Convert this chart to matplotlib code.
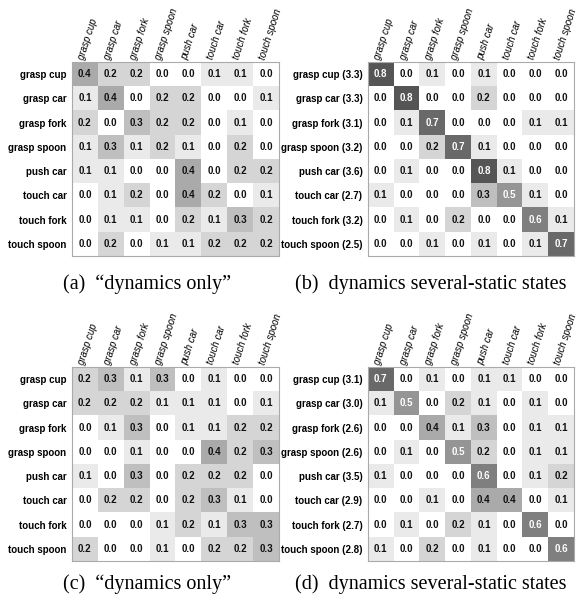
import numpy as np
import matplotlib
matplotlib.use("Agg")
import matplotlib.pyplot as plt
from matplotlib.colors import LinearSegmentedColormap

LABELS = ["grasp cup", "grasp car", "grasp fork", "grasp spoon",
          "push car", "touch car", "touch fork", "touch spoon"]

dyn_a = [[0.4, 0.2, 0.2, 0.0, 0.0, 0.1, 0.1, 0.0],
         [0.1, 0.4, 0.0, 0.2, 0.2, 0.0, 0.0, 0.1],
         [0.2, 0.0, 0.3, 0.2, 0.2, 0.0, 0.1, 0.0],
         [0.1, 0.3, 0.1, 0.2, 0.1, 0.0, 0.2, 0.0],
         [0.1, 0.1, 0.0, 0.0, 0.4, 0.0, 0.2, 0.2],
         [0.0, 0.1, 0.2, 0.0, 0.4, 0.2, 0.0, 0.1],
         [0.0, 0.1, 0.1, 0.0, 0.2, 0.1, 0.3, 0.2],
         [0.0, 0.2, 0.0, 0.1, 0.1, 0.2, 0.2, 0.2]]

static_b = [[0.8, 0.0, 0.1, 0.0, 0.1, 0.0, 0.0, 0.0],
            [0.0, 0.8, 0.0, 0.0, 0.2, 0.0, 0.0, 0.0],
            [0.0, 0.1, 0.7, 0.0, 0.0, 0.0, 0.1, 0.1],
            [0.0, 0.0, 0.2, 0.7, 0.1, 0.0, 0.0, 0.0],
            [0.0, 0.1, 0.0, 0.0, 0.8, 0.1, 0.0, 0.0],
            [0.1, 0.0, 0.0, 0.0, 0.3, 0.5, 0.1, 0.0],
            [0.0, 0.1, 0.0, 0.2, 0.0, 0.0, 0.6, 0.1],
            [0.0, 0.0, 0.1, 0.0, 0.1, 0.0, 0.1, 0.7]]
states_b = [3.3, 3.3, 3.1, 3.2, 3.6, 2.7, 3.2, 2.5]

dyn_c = [[0.2, 0.3, 0.1, 0.3, 0.0, 0.1, 0.0, 0.0],
         [0.2, 0.2, 0.2, 0.1, 0.1, 0.1, 0.0, 0.1],
         [0.0, 0.1, 0.3, 0.0, 0.1, 0.1, 0.2, 0.2],
         [0.0, 0.0, 0.1, 0.0, 0.0, 0.4, 0.2, 0.3],
         [0.1, 0.0, 0.3, 0.0, 0.2, 0.2, 0.2, 0.0],
         [0.0, 0.2, 0.2, 0.0, 0.2, 0.3, 0.1, 0.0],
         [0.0, 0.0, 0.0, 0.1, 0.2, 0.1, 0.3, 0.3],
         [0.2, 0.0, 0.0, 0.1, 0.0, 0.2, 0.2, 0.3]]

static_d = [[0.7, 0.0, 0.1, 0.0, 0.1, 0.1, 0.0, 0.0],
            [0.1, 0.5, 0.0, 0.2, 0.1, 0.0, 0.1, 0.0],
            [0.0, 0.0, 0.4, 0.1, 0.3, 0.0, 0.1, 0.1],
            [0.0, 0.1, 0.0, 0.5, 0.2, 0.0, 0.1, 0.1],
            [0.1, 0.0, 0.0, 0.0, 0.6, 0.0, 0.1, 0.2],
            [0.0, 0.0, 0.1, 0.0, 0.4, 0.4, 0.0, 0.1],
            [0.0, 0.1, 0.0, 0.2, 0.1, 0.0, 0.6, 0.0],
            [0.1, 0.0, 0.2, 0.0, 0.1, 0.0, 0.0, 0.6]]
states_d = [3.1, 3.0, 2.6, 2.6, 3.5, 2.9, 2.7, 2.8]

CAPTIONS = ["(a)  \u201cdynamics only\u201d", "(b)  dynamics several-static states",
            "(c)  \u201cdynamics only\u201d", "(d)  dynamics several-static states"]

W, H = 584, 602
cmap = LinearSegmentedColormap.from_list("g", ["#ffffff", "#000000"])


def draw(fig, box, mat, rows):
    x0, y0, x1, y1 = box
    ax = fig.add_axes([x0 / W, 1 - y1 / H, (x1 - x0) / W, (y1 - y0) / H])
    m = np.array(mat)
    ax.imshow(m, cmap=cmap, vmin=0, vmax=1.2, aspect="auto", interpolation="nearest")
    for i in range(m.shape[0]):
        for j in range(m.shape[1]):
            v = m[i, j]
            ax.text(j, i, f"{v:.1f}", ha="center", va="center", fontsize=7,
                    fontweight="bold", family="Liberation Sans",
                    color="white" if v >= 0.5 else "#111111")
    ax.set_xticks(range(len(LABELS)))
    ax.set_yticks(range(len(rows)))
    ax.set_xticklabels([])
    ax.set_yticklabels(rows, fontsize=7, fontweight="bold", family="Liberation Sans")
    ax.tick_params(length=0, pad=4)
    for j, lab in enumerate(LABELS):
        ax.text(j - 0.15, -0.62, lab, rotation=72, rotation_mode="anchor",
                ha="left", va="center", fontsize=7, style="italic",
                family="Liberation Sans")
    for s in ax.spines.values():
        s.set_color("#aaaaaa")
        s.set_linewidth(0.8)
    return ax


fig = plt.figure(figsize=(W / 100, H / 100), dpi=100)

rows_b = [f"{l} ({s:.1f})" for l, s in zip(LABELS, states_b)]
rows_d = [f"{l} ({s:.1f})" for l, s in zip(LABELS, states_d)]

draw(fig, (72, 62, 279, 256), dyn_a, LABELS)
draw(fig, (368, 62, 574, 256), static_b, rows_b)
draw(fig, (72, 367, 279, 561), dyn_c, LABELS)
draw(fig, (368, 367, 574, 561), static_d, rows_d)

cap_pos = [(147, 284), (431, 284), (147, 584), (431, 584)]
for (cx, cy), txt in zip(cap_pos, CAPTIONS):
    fig.text(cx / W, 1 - cy / H, txt, ha="center", va="center",
             fontsize=14.5, family="Liberation Serif")

fig.savefig("out.png", dpi=100)
